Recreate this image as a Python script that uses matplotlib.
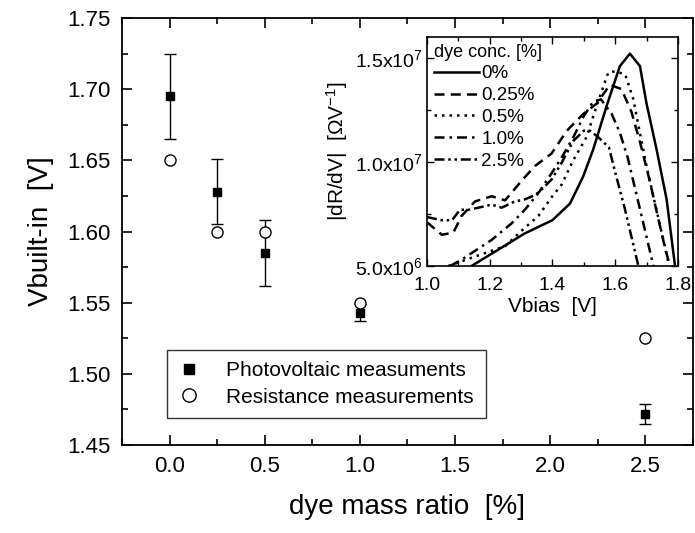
import matplotlib
matplotlib.use("Agg")
import matplotlib.pyplot as plt
from matplotlib.ticker import FixedLocator, MultipleLocator

plt.rcParams['font.family'] = ['Liberation Sans', 'DejaVu Sans']
plt.rcParams['mathtext.fontset'] = 'custom'
plt.rcParams['mathtext.rm'] = 'Liberation Sans'
plt.rcParams['mathtext.it'] = 'Liberation Sans:italic'

# ---------------- main data ----------------
dye_ratio = [0.0, 0.25, 0.5, 1.0, 2.5]
pv_vbi = [1.695, 1.628, 1.585, 1.543, 1.472]
pv_err = [0.030, 0.023, 0.023, 0.006, 0.007]
res_x = [0.0, 0.25, 0.5, 1.0, 2.5]
res_vbi = [1.650, 1.600, 1.600, 1.550, 1.525]

x_ticks = [0.0, 0.5, 1.0, 1.5, 2.0, 2.5]
x_tick_labels = ["0.0", "0.5", "1.0", "1.5", "2.0", "2.5"]
y_ticks = [1.45, 1.50, 1.55, 1.60, 1.65, 1.70, 1.75]
y_tick_labels = ["1.45", "1.50", "1.55", "1.60", "1.65", "1.70", "1.75"]

# ---------------- inset data (|dR/dV| in 1e6 Ohm/V) ----------------
c0_x = [1.142, 1.24, 1.31, 1.40, 1.456, 1.498, 1.53, 1.573, 1.615, 1.647, 1.679, 1.70, 1.732, 1.764, 1.79]
c0_y = [5.0, 5.9, 6.55, 7.2, 8.0, 9.3, 10.6, 12.7, 14.6, 15.2, 14.6, 12.8, 10.6, 8.2, 5.1]

c025_x = [1.0, 1.047, 1.084, 1.11, 1.153, 1.206, 1.249, 1.302, 1.344, 1.397, 1.446, 1.498, 1.541, 1.583,
          1.62, 1.652, 1.68, 1.71, 1.74, 1.76, 1.775]
c025_y = [7.1, 6.5, 6.6, 7.4, 8.1, 8.35, 8.15, 9.1, 9.8, 10.4, 11.5, 12.3, 12.8, 13.7,
          13.5, 12.4, 10.9, 9.1, 7.1, 5.8, 5.0]

c05_x = [1.068, 1.153, 1.249, 1.302, 1.355, 1.397, 1.429, 1.467, 1.509, 1.541, 1.578, 1.60, 1.632,
         1.658, 1.68, 1.70, 1.727, 1.753, 1.769]
c05_y = [5.0, 5.45, 5.95, 6.7, 7.4, 8.3, 8.9, 10.1, 11.2, 12.7, 14.3, 14.35, 14.2,
         13.0, 11.3, 9.8, 8.0, 6.3, 5.2]

c10_x = [1.074, 1.11, 1.206, 1.27, 1.312, 1.355, 1.397, 1.429, 1.467, 1.50, 1.53, 1.555, 1.589,
         1.615, 1.64, 1.67, 1.70, 1.722]
c10_y = [5.0, 5.3, 6.25, 7.05, 7.7, 8.5, 9.45, 10.2, 11.2, 12.2, 12.9, 13.0, 12.3,
         11.4, 10.2, 8.3, 6.4, 5.0]

c25_x = [1.0, 1.047, 1.08, 1.105, 1.132, 1.164, 1.206, 1.238, 1.28, 1.312, 1.344, 1.371, 1.397,
         1.429, 1.466, 1.50, 1.52, 1.545, 1.58, 1.60, 1.63, 1.655, 1.674]
c25_y = [7.35, 7.2, 7.2, 7.7, 7.7, 7.8, 7.95, 7.8, 8.1, 8.2, 8.4, 8.75, 9.15,
         9.95, 11.0, 11.5, 11.5, 11.2, 10.7, 9.5, 7.8, 6.2, 5.0]

inset_labels = ["0%", "0.25%", "0.5%", "1.0%", "2.5%"]
inset_x_ticks = [1.0, 1.2, 1.4, 1.6, 1.8]
inset_x_tick_labels = ["1.0", "1.2", "1.4", "1.6", "1.8"]
inset_y_ticks = [5e6, 1.0e7, 1.5e7]
inset_y_tick_labels = ["5.0x10$^{6}$", "1.0x10$^{7}$", "1.5x10$^{7}$"]

# ---------------- figure ----------------
fig = plt.figure(figsize=(6.95, 5.33), dpi=100)
ax = fig.add_axes([0.1755, 0.165, 0.8216, 0.801])

ax.errorbar(dye_ratio, pv_vbi, yerr=pv_err, fmt='none', ecolor='black',
            capsize=4, elinewidth=1.0, capthick=1.0, zorder=3)
h_pv, = ax.plot(dye_ratio, pv_vbi, 's', color='black', ms=6, ls='none',
                label='Photovoltaic measuments', zorder=4)
h_res, = ax.plot(res_x, res_vbi, 'o', mfc='white', mec='black', ms=8, mew=1.0, ls='none',
                 label='Resistance measurements', zorder=4)

ax.set_xlim(-0.25, 2.75)
ax.set_ylim(1.45, 1.75)
ax.xaxis.set_major_locator(FixedLocator(x_ticks))
ax.set_xticklabels(x_tick_labels)
ax.yaxis.set_major_locator(FixedLocator(y_ticks))
ax.set_yticklabels(y_tick_labels)
ax.xaxis.set_minor_locator(MultipleLocator(0.25))
ax.yaxis.set_minor_locator(MultipleLocator(0.025))
ax.tick_params(which='both', direction='in', top=True, right=True, width=1.2)
ax.tick_params(which='major', length=7, labelsize=16, pad=8)
ax.tick_params(which='minor', length=4)
for s in ax.spines.values():
    s.set_linewidth(1.3)
ax.set_xlabel("dye mass ratio  [%]", fontsize=20, labelpad=12)
ax.set_ylabel("Vbuilt-in  [V]", fontsize=20, labelpad=10)

leg = ax.legend(handles=[h_pv, h_res], loc='lower left', bbox_to_anchor=(0.079, 0.063),
                borderaxespad=0, fontsize=15, frameon=True, fancybox=False, edgecolor='black',
                handlelength=1.0, handletextpad=1.3, labelspacing=0.35, borderpad=0.55,
                numpoints=1, markerscale=1.2)
leg.get_frame().set_linewidth(1.0)

# ---------------- inset ----------------
ins = fig.add_axes([0.6144, 0.501, 0.361, 0.4296])
lw = 1.8
ins.plot(c0_x, [v * 1e6 for v in c0_y], color='black', lw=lw, ls='-', label=inset_labels[0])
ins.plot(c025_x, [v * 1e6 for v in c025_y], color='black', lw=lw, ls=(0, (4, 2.5)), label=inset_labels[1])
ins.plot(c05_x, [v * 1e6 for v in c05_y], color='black', lw=lw, ls=(0, (1, 2)), label=inset_labels[2])
ins.plot(c10_x, [v * 1e6 for v in c10_y], color='black', lw=lw, ls=(0, (4, 2, 1, 2)), label=inset_labels[3])
ins.plot(c25_x, [v * 1e6 for v in c25_y], color='black', lw=lw, ls=(0, (4, 1.5, 1, 1.5, 1, 1.5)), label=inset_labels[4])

ins.set_xlim(1.0, 1.8)
ins.set_ylim(5e6, 1.6e7)
ins.xaxis.set_major_locator(FixedLocator(inset_x_ticks))
ins.set_xticklabels(inset_x_tick_labels)
ins.yaxis.set_major_locator(FixedLocator(inset_y_ticks))
ins.set_yticklabels(inset_y_tick_labels)
ins.xaxis.set_minor_locator(MultipleLocator(0.1))
ins.yaxis.set_minor_locator(MultipleLocator(2.5e6))
ins.tick_params(which='both', direction='in', top=True, right=True, width=1.0)
ins.tick_params(which='major', length=5, labelsize=14)
ins.tick_params(axis='x', which='major', pad=8)
ins.tick_params(axis='y', which='major', pad=3)
ins.tick_params(which='minor', length=3)
for s in ins.spines.values():
    s.set_linewidth(1.2)
ins.set_xlabel("Vbias  [V]", fontsize=15, labelpad=2)
ins.set_ylabel("|dR/dV|  [\u03a9V$^{-1}$]", fontsize=15, labelpad=4)

ileg = ins.legend(loc='upper left', title="dye conc. [%]", fontsize=13.5, title_fontsize=13,
                  frameon=False, handlelength=2.4, handletextpad=0.15, labelspacing=0.25,
                  borderaxespad=0.15, borderpad=0.2)
ileg._legend_box.align = "left"

fig.savefig("out.png", dpi=100)
